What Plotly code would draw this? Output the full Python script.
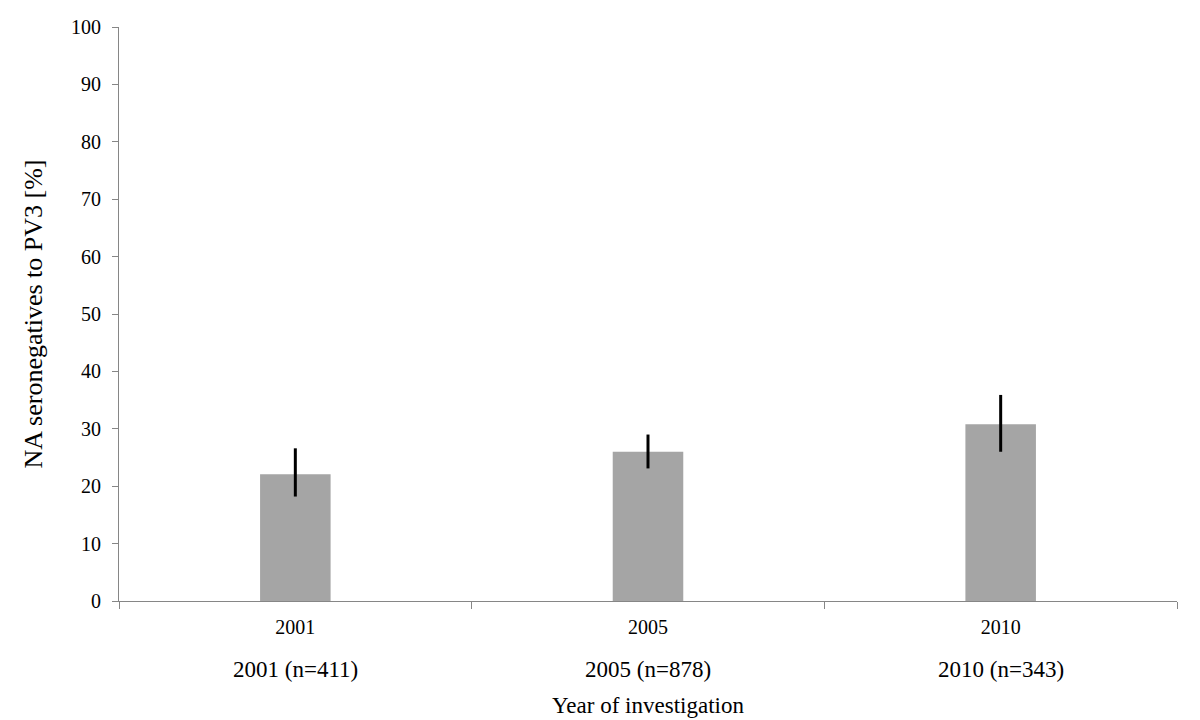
import plotly.graph_objects as go

years = ["2001", "2005", "2010"]
row_labels = ["2001 (n=411)", "2005 (n=878)", "2010 (n=343)"]
seroneg_pct = [22.1, 26.0, 30.8]
err_plus = [4.5, 3.0, 5.1]
err_minus = [3.9, 2.9, 4.8]

FONT = "Liberation Serif"
AXIS_COLOR = "#868686"
BAR_COLOR = "#A5A5A5"

fig = go.Figure()
fig.add_trace(go.Bar(
    x=years,
    y=seroneg_pct,
    width=0.2,
    marker=dict(color=BAR_COLOR, line_width=0),
    error_y=dict(type="data", symmetric=False, array=err_plus, arrayminus=err_minus,
                 color="black", thickness=3, width=0),
))

# second label row under the category ticks (category index positions)
for i, lab in enumerate(row_labels):
    fig.add_annotation(x=i, y=0, xref="x", yref="paper", text=lab, showarrow=False,
                       yanchor="middle", yshift=-68, font=dict(family=FONT, size=23, color="black"))

# page body has an 8px margin, so the figure is sized/placed to compensate
fig.update_layout(
    width=1192, height=712,
    plot_bgcolor="white", paper_bgcolor="white",
    font=dict(family=FONT, color="black"),
    margin=dict(l=111, r=23, t=19, b=119, autoexpand=False),
    showlegend=False,
    xaxis=dict(
        type="category", range=[-0.5, 2.5],
        showline=True, linecolor=AXIS_COLOR, linewidth=1,
        ticks="outside", tickson="boundaries", ticklen=7, tickcolor=AXIS_COLOR,
        tickfont=dict(family=FONT, size=20, color="black"), tickangle=0, ticklabelstandoff=8,
        title=dict(text="Year of investigation", font=dict(family=FONT, size=23), standoff=59),
        showgrid=False, automargin=False,
    ),
    yaxis=dict(
        range=[0, 100], dtick=10,
        showline=True, linecolor=AXIS_COLOR, linewidth=1,
        ticks="outside", ticklen=6, tickcolor=AXIS_COLOR,
        tickfont=dict(family=FONT, size=20, color="black"), ticklabelstandoff=7,
        title=dict(text="NA seronegatives to PV3 [%]", font=dict(family=FONT, size=26), standoff=20),
        showgrid=False, zeroline=False, automargin=False,
    ),
)

fig.write_html("out.html")
